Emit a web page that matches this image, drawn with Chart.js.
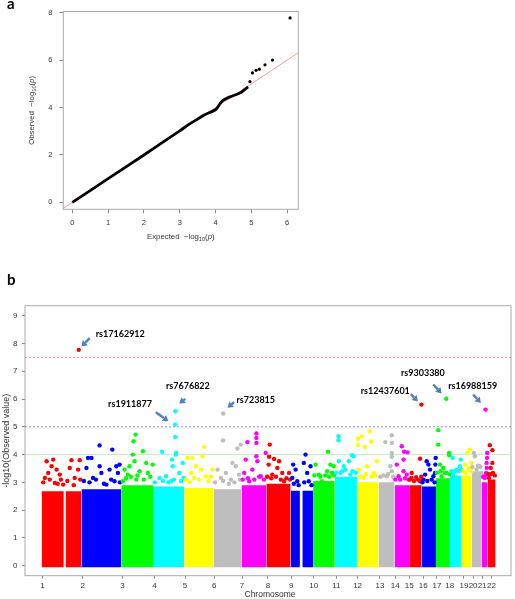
<!DOCTYPE html>
<html>
<head>
<meta charset="utf-8">
<script src="https://cdn.jsdelivr.net/npm/chart.js@4.4.1/dist/chart.umd.min.js"></script>
<style>
  body { margin: 0; background: #fff; width: 515px; height: 599px; overflow: hidden; position: relative; }
  #qqBox { position: absolute; left: 0; top: 0; width: 310px; height: 245px; }
  #manBox { position: absolute; left: 0; top: 260px; width: 515px; height: 339px; }
</style>
</head>
<body>
<div id="qqBox"><canvas id="qq" width="310" height="245"></canvas></div>
<div id="manBox"><canvas id="man" width="515" height="339"></canvas></div>
<script>
// ---- panel a: QQ plot ----
const qqExpected = [0, 1, 2, 3, 3.3, 3.56, 3.7, 3.94, 4.03, 4.12, 4.21, 4.4, 4.68, 4.82, 4.91];
const qqObserved = [0, 1, 2, 3.02, 3.33, 3.57, 3.7, 3.86, 3.95, 4.15, 4.3, 4.45, 4.61, 4.77, 4.87];
const qqTopExpected = [4.96, 5.03, 5.13, 5.22, 5.38, 5.59, 6.08];
const qqTopObserved = [5.09, 5.46, 5.57, 5.62, 5.80, 6.0, 7.78];
const qqNullLine = [-1, 8];
const qqXTicks = [0, 1, 2, 3, 4, 5, 6];
const qqYTicks = [0, 2, 4, 6, 8];

// ---- panel b: Manhattan plot ----
const chrNames = ['1','2','3','4','5','6','7','8','9','10','11','12','13','14','15','16','17','18','19','20','21','22'];
const chrLength = [248, 248, 198, 194, 182, 174, 155, 151, 140, 135, 138, 135, 99, 91, 78, 89, 87, 72, 62, 62, 38, 50];
const chrTickPos = [6, 256, 504, 703, 893, 1074, 1248, 1409, 1554, 1694, 1835, 1967, 2106, 2201, 2288, 2375, 2461, 2540, 2629, 2686, 2742, 2800];
const chrColors = ['#ff0000', '#0000ff', '#00ff00', '#00ffff', '#ffff00', '#bebebe', '#ff00ff'];
// height of the solid mass of SNPs per chromosome
const bulkTop = [2.68, 2.75, 2.9, 2.85, 2.8, 2.75, 2.9, 2.95, 2.7, 3.05, 3.2, 3.0, 3.0, 2.9, 2.9, 2.85, 3.15, 3.25, 3.25, 3.4, 3.0, 3.1];
// centromere gaps [chr, from, to] (Mb within chromosome)
const bulkGaps = [[1, 138, 149], [9, 58, 73]];
// scattered SNPs above the mass: [chr, Mb, -log10 p]
const snps = [
  [1,31,3.76],[1,72,3.82],[1,62,3.58],[1,93,3.46],[1,41,3.34],[1,113,3.28],[1,186,3.80],[1,175,3.52],[1,237,3.80],[1,227,3.46],[1,206,3.16],[1,20,3.16],[1,82,2.98],[1,134,2.92],
  [1,10,3.0],[1,50,3.1],[1,100,2.95],[1,160,3.05],[1,200,2.9],[1,240,3.1],[1,120,3.1],
  [2,113,4.33],[2,192,4.18],[2,41,3.88],[2,62,3.88],[2,113,3.58],[2,217,3.58],[2,237,3.64],[2,31,3.52],[2,124,3.34],[2,175,3.46],[2,227,3.34],[2,72,3.16],[2,155,2.92],[2,206,3.04],
  [2,15,3.05],[2,50,3.0],[2,90,3.1],[2,140,2.95],[2,185,3.1],[2,240,3.0],
  [3,89,4.72],[3,76,4.48],[3,134,4.12],[3,72,4.00],[3,82,3.76],[3,51,3.58],[3,155,3.70],[3,195,3.64],[3,20,3.46],[3,113,3.40],[3,41,3.28],[3,165,3.34],[3,93,3.10],[3,10,3.04],
  [3,30,3.15],[3,60,3.2],[3,100,3.25],[3,140,3.1],[3,180,3.2],
  [4,138,4.63],[4,56,4.10],[4,143,4.06],[4,141,4.00],[4,118,3.82],[4,184,3.70],[4,122,3.58],[4,81,3.22],[4,39,3.16],[4,163,3.34],[4,112,3.04],[4,190,3.16],
  [4,10,3.0],[4,60,3.05],[4,95,3.0],[4,130,3.1],[4,175,3.05],
  [5,124,4.27],[5,51,3.88],[5,20,3.88],[5,113,3.94],[5,73,3.58],[5,104,3.46],[5,42,3.34],[5,175,3.46],[5,135,3.22],[5,62,3.16],
  [5,10,3.1],[5,35,3.0],[5,90,3.1],[5,150,3.05],[5,165,3.2],
  [6,60,4.51],[6,170,4.36],[6,149,4.22],[6,118,3.70],[6,25,3.46],[6,77,3.34],[6,139,3.58],[6,46,3.16],[6,108,3.10],[6,159,3.28],
  [6,10,3.0],[6,60,3.05],[6,95,2.95],[6,130,3.0],[6,165,3.1],
  [7,93,4.76],[7,93,4.60],[7,93,4.42],[7,37,4.45],[7,93,3.94],[7,99,3.76],[7,27,3.82],[7,68,3.46],[7,17,3.34],[7,120,3.22],[7,48,3.04],[7,151,4.06],
  [7,8,3.1],[7,40,3.15],[7,80,3.1],[7,110,3.2],[7,140,3.1],
  [8,21,4.36],[8,17,3.92],[8,48,3.84],[8,79,3.76],[8,14,3.64],[8,68,3.52],[8,99,3.34],[8,141,3.34],[8,110,3.04],[8,37,3.28],
  [8,5,3.2],[8,30,3.15],[8,60,3.2],[8,90,3.1],[8,125,3.15],[8,148,3.1],
  [9,93,4.00],[9,82,3.70],[9,124,3.58],[9,16,3.64],[9,31,3.46],[9,103,3.34],[9,10,3.16],[9,113,3.04],[9,41,3.04],
  [9,20,2.95],[9,50,2.9],[9,85,3.0],[9,130,2.9],
  [10,93,4.10],[10,15,3.64],[10,108,3.64],[10,128,3.58],[10,87,3.40],[10,35,3.28],[10,118,3.34],[10,56,3.04],
  [10,8,3.25],[10,45,3.2],[10,75,3.25],[10,100,3.2],[10,130,3.25],
  [11,23,4.66],[11,23,4.52],[11,107,3.98],[11,118,3.94],[11,25,3.76],[11,87,3.76],[11,56,3.58],[11,35,3.34],[11,97,3.28],[11,76,3.10],
  [11,8,3.35],[11,45,3.4],[11,65,3.45],[11,110,3.4],[11,130,3.35],
  [12,79,4.84],[12,6,4.57],[12,31,4.66],[12,87,4.46],[12,48,4.28],[12,6,4.34],[12,124,3.76],[12,11,3.46],[12,62,3.58],[12,104,3.34],[12,42,3.16],
  [12,20,3.2],[12,55,3.3],[12,90,3.2],[12,115,3.25],
  [13,82,4.70],[13,42,4.45],[13,82,4.42],[13,82,4.06],[13,82,3.92],[13,73,3.58],[13,82,3.40],[13,51,3.22],[13,97,3.16],
  [13,10,3.2],[13,30,3.25],[13,60,3.3],[13,90,3.2],
  [14,45,4.30],[14,60,4.10],[14,81,4.08],[14,56,3.82],[14,14,3.64],[14,56,3.40],[14,76,3.28],[14,25,3.22],
  [14,5,3.1],[14,35,3.1],[14,65,3.15],[14,86,3.1],
  [15,68,3.85],[15,16,3.34],[15,43,3.19],[15,68,3.04],[15,14,3.16],
  [15,5,3.1],[15,30,3.05],[15,55,3.1],[15,75,3.2],
  [16,87,3.88],[16,31,3.76],[16,42,3.64],[16,85,3.64],[16,52,3.46],[16,83,3.34],[16,21,3.28],[16,73,3.22],[16,11,3.10],
  [16,5,3.0],[16,35,3.05],[16,62,3.1],[16,80,3.0],
  [17,14,4.88],[17,14,4.36],[17,81,4.06],[17,82,3.98],[17,45,3.52],[17,25,3.64],[17,56,3.34],[17,35,3.22],
  [17,5,3.35],[17,30,3.4],[17,65,3.35],[17,85,3.3],
  [18,16,3.88],[18,67,3.82],[18,62,3.58],[18,31,3.40],[18,70,3.46],[18,20,3.28],
  [18,8,3.4],[18,40,3.45],[18,55,3.4],
  [19,52,4.18],[19,35,4.06],[19,60,3.70],[19,21,3.64],[19,42,3.52],[19,27,3.34],
  [19,8,3.4],[19,45,3.45],[19,58,3.4],
  [20,15,4.06],[20,21,3.94],[20,52,3.58],[20,31,3.46],[20,60,3.34],
  [20,5,3.55],[20,40,3.6],[20,55,3.55],
  [21,36,4.06],[21,35,3.88],[21,32,3.70],[21,33,3.52],[21,29,3.34],[21,21,3.16],
  [21,10,3.2],[21,25,3.25],
  [22,14,4.34],[22,30,4.16],[22,30,3.70],[22,20,3.52],[22,34,3.34],[22,9,3.16],
  [22,5,3.3],[22,25,3.3],[22,45,3.25]
];
const hitNames = ['rs17162912', 'rs1911877', 'rs7676822', 'rs723815', 'rs12437601', 'rs9303380', 'rs16988159'];
const hitChr = [1, 4, 4, 6, 15, 17, 21];
const hitPos = [231, 137, 138, 60, 76, 64, 25];
const hitVal = [7.77, 5.08, 5.56, 5.48, 5.80, 6.01, 5.62];
const thresholds = [7.5, 5, 4];
const yTicks = [0, 1, 2, 3, 4, 5, 6, 7, 8, 9];

const FONT = '"Liberation Sans", Arial, sans-serif';
const LABEL_FONT = 'Lato, "Open Sans", sans-serif';

const chrStart = [];
chrLength.reduce((acc, len, i) => { chrStart[i] = acc; return acc + len; }, 0);
const colorOf = chr => chrColors[(chr - 1) % chrColors.length];

// draws text made of parts (normal / subscript / italic), centred at x,y
function richText(ctx, parts, x, y, rot, size) {
  ctx.save();
  ctx.translate(x, y);
  ctx.rotate(rot);
  ctx.textBaseline = 'middle';
  ctx.textAlign = 'left';
  const fontFor = p => (p.it ? 'italic ' : '') + (p.sub ? size * 0.72 : size) + 'px ' + FONT;
  let total = 0;
  parts.forEach(p => { ctx.font = fontFor(p); total += ctx.measureText(p.t).width; });
  let cx = -total / 2;
  parts.forEach(p => {
    ctx.font = fontFor(p);
    ctx.fillText(p.t, cx, p.sub ? size * 0.3 : 0);
    cx += ctx.measureText(p.t).width;
  });
  ctx.restore();
}

const logParts = label => [
  { t: label + '  \u2212log' }, { t: '10', sub: true }, { t: '(' }, { t: 'p', it: true }, { t: ')' }
];

function axisStyle(ticks, size, extra) {
  return Object.assign({
    type: 'linear',
    afterBuildTicks: s => { s.ticks = ticks.map(v => ({ value: v })); },
    grid: { drawOnChartArea: false, drawTicks: true, tickLength: 4, color: '#888' },
    border: { display: false },
    ticks: { font: { size: size, family: FONT }, color: '#333', maxRotation: 0, autoSkip: false }
  }, extra);
}

// ---------- chart a ----------
new Chart(document.getElementById('qq'), {
  type: 'line',
  data: {
    datasets: [
      {
        data: qqExpected.map((x, i) => ({ x: x, y: qqObserved[i] })),
        borderColor: '#000', borderWidth: 2.8, pointRadius: 0, tension: 0.3, order: 0
      },
      {
        data: qqTopExpected.map((x, i) => ({ x: x, y: qqTopObserved[i] })),
        showLine: false, pointRadius: 1.6, pointBorderWidth: 0, pointBackgroundColor: '#000', order: 0
      },
      {
        data: qqNullLine.map(v => ({ x: v, y: v })),
        borderColor: '#f2a0a0', borderWidth: 1, pointRadius: 0, order: 1
      }
    ]
  },
  options: {
    responsive: false, animation: false, events: [],
    layout: { padding: { left: 0, top: 1.5, right: 11.7, bottom: 5.7 } },
    plugins: { legend: { display: false }, tooltip: { enabled: false } },
    scales: {
      x: axisStyle(qqXTicks, 7.5, {
        min: -0.25, max: 6.31, afterFit: s => { s.height = 30; },
        ticks: { font: { size: 7.5, family: FONT }, color: '#333', maxRotation: 0, autoSkip: false, padding: 5 }
      }),
      y: axisStyle(qqYTicks, 7.5, {
        min: -0.29, max: 8.05, afterFit: s => { s.width = 63.3; },
        ticks: { font: { size: 7.5, family: FONT }, color: '#333', padding: 7 }
      })
    }
  },
  plugins: [{
    id: 'qqFrame',
    afterDraw(chart) {
      const { ctx, chartArea: a } = chart;
      ctx.save();
      ctx.strokeStyle = '#aaa';
      ctx.lineWidth = 1;
      ctx.strokeRect(a.left, a.top, a.right - a.left, a.bottom - a.top);
      ctx.fillStyle = '#333';
      richText(ctx, logParts('Expected'), (a.left + a.right) / 2, 237, 0, 7.8);
      richText(ctx, logParts('Observed'), 32, (a.top + a.bottom) / 2, -Math.PI / 2, 7.8);
      ctx.fillStyle = '#000';
      ctx.font = 'bold 15px ' + LABEL_FONT;
      ctx.textBaseline = 'alphabetic';
      ctx.fillText('a', 7, 9);
      ctx.restore();
    }
  }]
});

// ---------- chart b ----------
const blocks = [];
chrLength.forEach((len, i) => {
  const chr = i + 1;
  let from = 0;
  bulkGaps.filter(g => g[0] === chr).forEach(g => {
    blocks.push({ chr: chr, a: from, b: g[1] });
    from = g[2];
  });
  blocks.push({ chr: chr, a: from, b: len });
});

const xMin = -103.5, xMax = 2922;
const datasets = [];
datasets.push({
  data: hitVal.map((v, i) => ({ x: chrStart[hitChr[i] - 1] + hitPos[i], y: v })),
  showLine: false, pointRadius: 2.2, pointBorderWidth: 0,
  pointBackgroundColor: hitChr.map(colorOf), order: 0
});
datasets.push({
  data: snps.map(s => ({ x: chrStart[s[0] - 1] + s[1], y: s[2] })),
  showLine: false, pointRadius: 2.2, pointBorderWidth: 0,
  pointBackgroundColor: snps.map(s => colorOf(s[0])), order: 1
});
blocks.forEach(b => {
  const top = bulkTop[b.chr - 1];
  datasets.push({
    data: [{ x: chrStart[b.chr - 1] + b.a, y: top }, { x: chrStart[b.chr - 1] + b.b, y: top }],
    borderWidth: 0, pointRadius: 0, fill: { value: -0.06 },
    backgroundColor: colorOf(b.chr), borderColor: colorOf(b.chr), order: 2
  });
});
const lineStyles = [
  { color: '#ee8888', dash: [2, 2] },
  { color: '#8888ee', dash: [2, 2] },
  { color: '#c4eac4', dash: [] }
];
thresholds.forEach((t, i) => {
  datasets.push({
    data: [{ x: xMin, y: t }, { x: xMax, y: t }],
    borderColor: lineStyles[i].color, borderDash: lineStyles[i].dash,
    borderWidth: 1, pointRadius: 0, order: 3
  });
});

// label / arrow placement around each hit, in pixels
const hitLayout = [
  { tx: 17, ty: -15.7, x1: 11, y1: -11.7, x2: 2.7, y2: -3.3 },
  { tx: -67, ty: -20, x1: -19.3, y1: -12.3, x2: -6.7, y2: -3.3 },
  { tx: -9.3, ty: -25, x1: 10, y1: -12.4, x2: 4, y2: -7.7 },
  { tx: 13.3, ty: -13.3, x1: 11, y1: -11.3, x2: 4.3, y2: -5.7 },
  { tx: -60.6, ty: -13.3, x1: -10.5, y1: -10.5, x2: -3.5, y2: -3 },
  { tx: -45.3, ty: -25.3, x1: -13, y1: -14.3, x2: -4.7, y2: -5.3 },
  { tx: -37.3, ty: -23.3, x1: -12.3, y1: -15, x2: -4.6, y2: -6.7 }
];

function arrow(ctx, x1, y1, x2, y2) {
  const ang = Math.atan2(y2 - y1, x2 - x1);
  const head = 5.5;
  const bx = x2 - head * Math.cos(ang), by = y2 - head * Math.sin(ang);
  ctx.beginPath();
  ctx.moveTo(x1, y1);
  ctx.lineTo(bx, by);
  ctx.lineWidth = 2.4;
  ctx.stroke();
  ctx.beginPath();
  ctx.moveTo(x2, y2);
  ctx.lineTo(bx + 3.6 * Math.sin(ang), by - 3.6 * Math.cos(ang));
  ctx.lineTo(bx - 3.6 * Math.sin(ang), by + 3.6 * Math.cos(ang));
  ctx.closePath();
  ctx.fill();
}

new Chart(document.getElementById('man'), {
  type: 'line',
  data: { datasets: datasets },
  options: {
    responsive: false, animation: false, events: [],
    layout: { padding: { left: 0, top: 45.7, right: 1.7, bottom: 0 } },
    plugins: { legend: { display: false }, tooltip: { enabled: false } },
    scales: {
      x: axisStyle(chrTickPos, 8, {
        min: xMin, max: xMax,
        afterFit: s => { s.height = 23.3; },
        grid: { drawOnChartArea: false, drawTicks: true, tickLength: 3, color: '#888' },
        ticks: {
          font: { size: 8, family: FONT }, color: '#333', maxRotation: 0, autoSkip: false, padding: 2,
          callback: (v, i) => chrNames[i]
        }
      }),
      y: axisStyle(yTicks, 8, {
        min: -0.36, max: 9.36,
        afterFit: s => { s.width = 25; },
        grid: { drawOnChartArea: false, drawTicks: true, tickLength: 3, color: '#888' },
        ticks: { font: { size: 8, family: FONT }, color: '#333', padding: 4.5 }
      })
    }
  },
  plugins: [{
    id: 'manFrame',
    afterDraw(chart) {
      const { ctx, chartArea: a, scales } = chart;
      ctx.save();
      ctx.strokeStyle = '#aaa';
      ctx.lineWidth = 1;
      ctx.strokeRect(a.left, a.top, a.right - a.left, a.bottom - a.top);
      ctx.fillStyle = '#333';
      ctx.font = '8.5px ' + FONT;
      ctx.textAlign = 'center';
      ctx.textBaseline = 'middle';
      ctx.fillText('Chromosome', 270, 335);
      ctx.translate(7, (a.top + a.bottom) / 2);
      ctx.rotate(-Math.PI / 2);
      ctx.font = '9px ' + FONT;
      ctx.fillText('-log10(Observed value)', 0, 0);
      ctx.restore();

      ctx.save();
      hitNames.forEach((name, i) => {
        const px = scales.x.getPixelForValue(chrStart[hitChr[i] - 1] + hitPos[i]);
        const py = scales.y.getPixelForValue(hitVal[i]);
        const L = hitLayout[i];
        ctx.fillStyle = '#4f81bd';
        ctx.strokeStyle = '#4f81bd';
        arrow(ctx, px + L.x1, py + L.y1, px + L.x2, py + L.y2);
        ctx.fillStyle = '#000';
        ctx.font = 'bold 9px ' + LABEL_FONT;
        ctx.textAlign = 'left';
        ctx.textBaseline = 'middle';
        ctx.fillText(name, px + L.tx, py + L.ty);
      });
      ctx.fillStyle = '#000';
      ctx.font = 'bold 15px ' + LABEL_FONT;
      ctx.textBaseline = 'alphabetic';
      ctx.fillText('b', 7, 25);
      ctx.restore();
    }
  }]
});
</script>
</body>
</html>
